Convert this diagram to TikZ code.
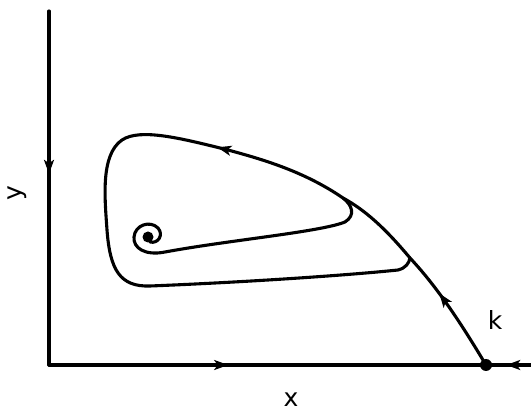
\documentclass[tikz,border=0pt]{standalone}
\usepackage{fontspec}
\setmainfont{DejaVu Sans}
\usetikzlibrary{arrows.meta,decorations.markings}
\tikzset{
  curve/.style={line width=3.1pt, line cap=round, line join=round},
  midarrow/.style={postaction={decorate,decoration={markings,
     mark=at position #1 with {\arrow{Stealth[length=14pt,width=10pt,inset=3.5pt]}}}}},
  lbl/.style={font=\fontsize{25}{30}\selectfont, inner sep=0pt}
}
\begin{document}
\begin{tikzpicture}[x=1pt,y=-1pt]
\useasboundingbox (0,0) rectangle (531,414);
% axes
\coordinate (ytop) at (49,11);
\coordinate (O) at (49,365);
\coordinate (kpt) at (486,365);
\coordinate (xend) at (531,365);
\draw[curve, midarrow=0.46] (ytop) -- (O);
\draw[curve, midarrow=0.41] (O) -- (kpt);
\draw[curve, midarrow=0.55] (xend) -- (kpt);
% separatrix and outer loop
\coordinate (j1) at (410,258);
\coordinate (j2) at (343,198);
\coordinate (top) at (228,150);
\draw[curve, midarrow=0.65] (kpt) .. controls (465,330) and (440,290) .. (j1);
\draw[curve] (j1) .. controls (385,228) and (365,210) .. (j2)
  .. controls (305,172) and (265,160) .. (top);
\draw[curve, midarrow=0.02] (top) .. controls (180,138) and (140,128) .. (122,140)
  .. controls (100,155) and (105,200) .. (107,230)
  .. controls (110,270) and (120,287) .. (150,286)
  .. controls (250,282) and (350,275) .. (398,270)
  .. controls (406,268) and (409,263) .. (j1);
% inner loop and spiral
\draw[curve] (j2) .. controls (352,205) and (356,215) .. (345,222)
  .. controls (320,232) and (230,240) .. (165,252)
  .. controls (145,256) and (133,248) .. (134,237)
  .. controls (135,225) and (150,220) .. (158,228)
  .. controls (164,235) and (158,244) .. (150,242);
\node[circle, fill, inner sep=0pt, minimum size=11pt] (focus) at (148,237) {};
\node[circle, fill, inner sep=0pt, minimum size=12pt] (kdot) at (kpt) {};
% labels
\node[lbl] (xl) at (291,400) {x};
\node[lbl, rotate=90] (yl) at (17,193) {y};
\node[lbl] (kl) at (495,320) {k};
\end{tikzpicture}
\end{document}
